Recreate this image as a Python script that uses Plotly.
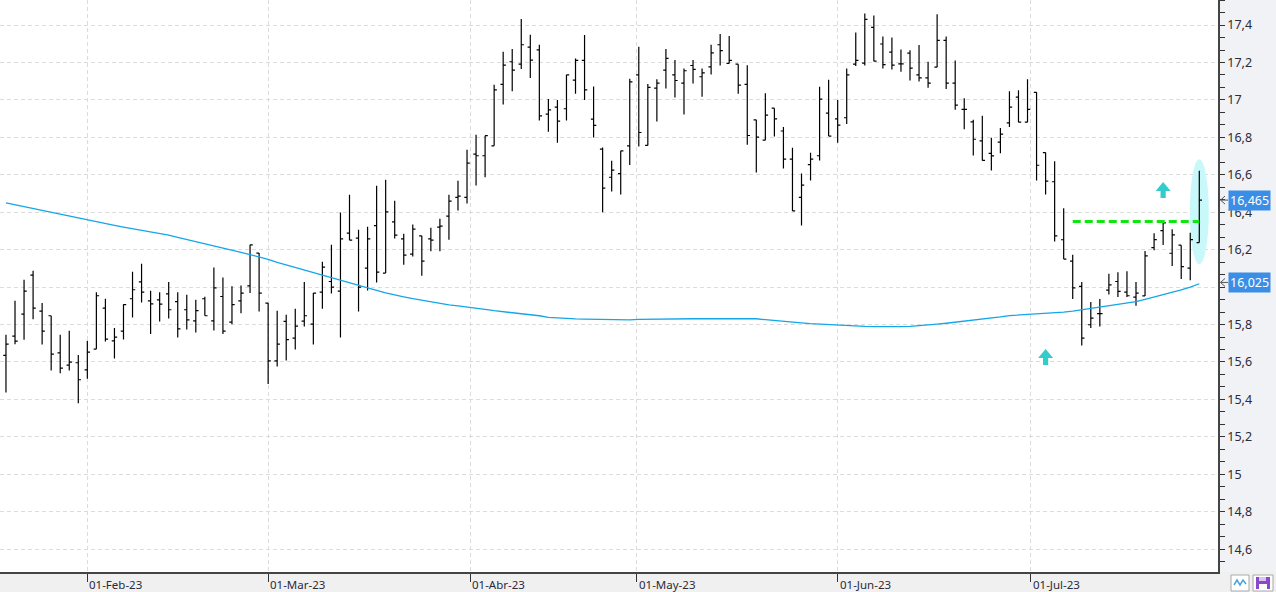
import numpy as np
import pandas as pd
import plotly.graph_objects as go

# ---------------- data ----------------
holidays = ["2023-04-07", "2023-04-10", "2023-05-01"]
dates = pd.bdate_range("2023-01-19", "2023-07-27", freq="C", holidays=holidays)

opens = [15.635, 15.738, 15.856, 16.064, 15.872, 15.847, 15.649, 15.583, 15.596, 15.558,
         15.669, 15.888, 15.713, 15.765, 15.938, 16.028, 15.927, 15.932, 15.964, 15.922,
         15.879, 15.820, 15.938, 15.820, 15.950, 15.813, 15.927, 16.007, 16.182, 15.915,
         15.606, 15.817, 15.728, 15.818, 15.802, 15.973, 16.030, 15.979, 16.289, 16.262,
         16.102, 16.329, 16.075, 16.349, 16.258, 16.176, 16.274, 16.258, 16.321, 16.379,
         16.480, 16.480, 16.711, 16.702, 16.755, 17.083, 17.204, 17.191, 17.282, 17.268,
         16.924, 16.962, 16.953, 17.106, 17.211, 16.898, 16.737, 16.587, 16.606, 16.755,
         17.134, 16.757, 17.063, 17.159, 17.134, 17.090, 17.184, 17.124, 17.177, 17.295,
         17.195, 17.191, 17.083, 16.894, 16.785, 16.956, 16.834, 16.684, 16.479, 16.654,
         16.702, 16.930, 16.899, 16.905, 17.191, 17.197, 17.388, 17.299, 17.256, 17.193,
         17.250, 17.134, 17.118, 17.175, 17.318, 17.090, 16.950, 16.883, 16.781, 16.715,
         16.775, 16.878, 17.015, 16.881, 17.041, 16.719, 16.563, 16.253, 16.139, 16.004,
         15.799, 15.858, 15.984, 16.030, 15.973, 15.947, 15.953, 16.211, 16.302, 16.181,
         16.224, 16.101, 16.238]
highs = [15.745, 15.927, 16.039, 16.087, 15.915, 15.847, 15.745, 15.767, 15.638, 15.713,
         15.973, 15.938, 15.781, 15.909, 16.082, 16.125, 15.980, 15.973, 16.028, 15.973,
         15.959, 15.932, 15.948, 16.105, 16.052, 16.004, 16.009, 16.226, 16.182, 15.915,
         15.874, 15.852, 15.884, 16.028, 15.968, 16.135, 16.226, 16.399, 16.493, 16.306,
         16.322, 16.541, 16.573, 16.461, 16.285, 16.335, 16.274, 16.317, 16.365, 16.493,
         16.568, 16.734, 16.814, 16.809, 17.081, 17.257, 17.272, 17.432, 17.349, 17.295,
         17.005, 17.000, 17.134, 17.222, 17.347, 17.072, 16.746, 16.675, 16.728, 17.113,
         17.284, 17.085, 17.111, 17.272, 17.213, 17.168, 17.213, 17.168, 17.295, 17.352,
         17.341, 17.191, 17.186, 16.894, 17.036, 16.956, 16.856, 16.744, 16.607, 16.718,
         17.070, 17.108, 17.000, 17.168, 17.361, 17.462, 17.451, 17.339, 17.334, 17.270,
         17.265, 17.293, 17.204, 17.458, 17.339, 17.211, 17.009, 16.894, 16.915, 16.798,
         16.850, 17.047, 17.052, 17.111, 17.041, 16.719, 16.673, 16.422, 16.173, 16.027,
         15.920, 15.936, 16.071, 16.080, 16.085, 16.027, 16.193, 16.288, 16.343, 16.309,
         16.224, 16.291, 16.622]
lows = [15.437, 15.695, 15.719, 15.829, 15.694, 15.555, 15.540, 15.555, 15.380, 15.510,
        15.669, 15.710, 15.619, 15.720, 15.838, 15.918, 15.749, 15.817, 15.833, 15.731,
        15.774, 15.758, 15.847, 15.768, 15.749, 15.802, 15.861, 15.968, 15.870, 15.482,
        15.576, 15.608, 15.667, 15.790, 15.694, 15.884, 15.966, 15.731, 16.251, 15.870,
        15.982, 16.025, 16.075, 16.260, 16.119, 16.164, 16.061, 16.191, 16.191, 16.253,
        16.410, 16.447, 16.543, 16.587, 16.755, 16.976, 17.047, 17.165, 17.117, 16.890,
        16.830, 16.771, 16.890, 17.033, 17.000, 16.799, 16.400, 16.511, 16.495, 16.653,
        16.751, 16.757, 16.885, 17.061, 17.013, 16.922, 17.088, 17.017, 17.136, 17.184,
        17.195, 17.033, 16.760, 16.612, 16.785, 16.805, 16.634, 16.407, 16.329, 16.570,
        16.677, 16.807, 16.771, 16.872, 17.182, 17.184, 17.207, 17.168, 17.163, 17.150,
        17.104, 17.099, 17.065, 17.175, 17.058, 16.947, 16.843, 16.703, 16.677, 16.623,
        16.715, 16.856, 16.881, 16.881, 16.570, 16.495, 16.244, 16.150, 15.936, 15.688,
        15.781, 15.790, 15.961, 15.947, 15.947, 15.900, 15.953, 16.197, 16.225, 16.113,
        16.044, 16.037, 16.238]
closes = [15.695, 15.711, 15.979, 15.888, 15.765, 15.642, 15.567, 15.599, 15.505, 15.653,
          15.954, 15.722, 15.733, 15.907, 15.986, 15.973, 15.911, 15.909, 15.879, 15.777,
          15.825, 15.874, 15.847, 15.996, 15.765, 15.906, 15.968, 16.226, 15.968, 15.606,
          15.695, 15.719, 15.792, 15.847, 15.968, 16.107, 16.000, 16.258, 16.251, 16.000,
          16.258, 16.080, 16.402, 16.278, 16.171, 16.310, 16.139, 16.251, 16.326, 16.459,
          16.486, 16.662, 16.702, 16.809, 17.054, 17.186, 17.159, 17.295, 17.213, 16.915,
          16.947, 16.887, 17.134, 17.211, 17.054, 16.864, 16.529, 16.625, 16.728, 17.097,
          16.826, 17.067, 17.090, 17.222, 17.104, 17.156, 17.163, 17.145, 17.252, 17.263,
          17.211, 17.079, 16.810, 16.801, 16.919, 16.899, 16.684, 16.407, 16.545, 16.684,
          17.004, 16.807, 16.865, 17.134, 17.211, 17.430, 17.207, 17.189, 17.186, 17.193,
          17.170, 17.118, 17.090, 17.318, 17.090, 16.972, 16.950, 16.790, 16.677, 16.701,
          16.817, 16.962, 16.881, 16.950, 16.651, 16.566, 16.274, 16.150, 15.996, 15.728,
          15.834, 15.858, 16.012, 15.977, 15.954, 15.968, 16.167, 16.254, 16.343, 16.279,
          16.110, 16.254, 16.465]
moving_avg = [16.450, 16.440, 16.429, 16.419, 16.408, 16.398, 16.388, 16.377, 16.367, 16.356,
              16.347, 16.339, 16.330, 16.321, 16.313, 16.304, 16.295, 16.287, 16.278, 16.266,
              16.255, 16.243, 16.232, 16.220, 16.209, 16.197, 16.186, 16.174, 16.163, 16.148,
              16.132, 16.118, 16.104, 16.091, 16.077, 16.064, 16.050, 16.035, 16.021, 16.007,
              15.994, 15.982, 15.969, 15.957, 15.948, 15.938, 15.929, 15.920, 15.911, 15.905,
              15.900, 15.895, 15.888, 15.881, 15.874, 15.869, 15.863, 15.858, 15.853, 15.847,
              15.838, 15.834, 15.832, 15.830, 15.829, 15.828, 15.826, 15.825, 15.824, 15.825,
              15.828, 15.829, 15.830, 15.831, 15.831, 15.831, 15.831, 15.831, 15.831, 15.831,
              15.831, 15.831, 15.831, 15.831, 15.826, 15.821, 15.818, 15.814, 15.809, 15.805,
              15.802, 15.799, 15.796, 15.793, 15.792, 15.790, 15.789, 15.788, 15.788, 15.789,
              15.790, 15.793, 15.797, 15.802, 15.807, 15.812, 15.817, 15.822, 15.828, 15.834,
              15.841, 15.848, 15.851, 15.853, 15.856, 15.859, 15.862, 15.866, 15.872, 15.879,
              15.886, 15.893, 15.900, 15.907, 15.914, 15.922, 15.934, 15.946, 15.958, 15.971,
              15.985, 16.000, 16.018]

month_starts = ["2023-02-01", "2023-03-01", "2023-04-01", "2023-05-01", "2023-06-01", "2023-07-01"]
month_labels = ["01-Feb-23", "01-Mar-23", "01-Abr-23", "01-May-23", "01-Jun-23", "01-Jul-23"]

last_price = 16.465
last_avg = 16.025
level_start_idx, level_end_idx, level_price = 118, 132, 16.35
signal_idx = [115, 128]
signal_price = [15.627, 16.519]
highlight_idx = 132
highlight_low, highlight_high = 16.122, 16.683

# ---------------- geometry ----------------
W, H = 1276, 592
ML, MR, MT, MB = 0, 58, 0, 20
PW, PH = W - ML - MR, H - MT - MB

n = len(opens)
x_idx = np.arange(n)
if len(dates) == n:
    date_ts = dates.values.astype("datetime64[s]").astype(np.int64)
    tick_pos = list(np.interp(pd.to_datetime(month_starts).values.astype("datetime64[s]").astype(np.int64),
                              date_ts, x_idx))
else:
    tick_pos = [9, 29, 51.33, 69.75, 92, 113.33]

def pxx(p):  # pixel x -> paper
    return (p - ML) / PW

def pxy(p):  # pixel y -> paper
    return (MT + PH - p) / PH

fig = go.Figure()

fig.add_trace(go.Scatter(
    x=x_idx, y=moving_avg, mode="lines",
    line=dict(color="#14a6e8", width=1.3), hoverinfo="skip", showlegend=False))

fig.add_trace(go.Ohlc(
    x=x_idx, open=opens, high=highs, low=lows, close=closes,
    increasing=dict(line=dict(color="#000000", width=1.2)),
    decreasing=dict(line=dict(color="#000000", width=1.2)),
    tickwidth=0.3, showlegend=False))

fig.add_trace(go.Scatter(
    x=[level_start_idx, level_end_idx], y=[level_price, level_price], mode="lines",
    line=dict(color="#11e611", width=3, dash="8px,4px"), hoverinfo="skip", showlegend=False))

shapes = []
# highlight ellipse
shapes.append(dict(type="circle", xref="x", yref="y", layer="between",
                   x0=highlight_idx - 1.05, x1=highlight_idx + 1.05,
                   y0=highlight_low, y1=highlight_high,
                   fillcolor="#c8f8fa", line=dict(width=0)))
# signal arrows
arrow_path = "M0,8 L7.5,-1 L2.6,-1 L2.6,-8 L-2.6,-8 L-2.6,-1 L-7.5,-1 Z"
for xi, yp in zip(signal_idx, signal_price):
    shapes.append(dict(type="path", xref="x", yref="y", xsizemode="pixel", ysizemode="pixel",
                       xanchor=xi, yanchor=yp, path=arrow_path,
                       fillcolor="#33cccc", line=dict(width=0), layer="above"))
# right-side axis background strip
shapes.append(dict(type="rect", xref="paper", yref="paper", x0=1, x1=pxx(W), y0=0, y1=1,
                   fillcolor="#f1f2f5", line=dict(width=0), layer="below"))
# small arrows pointing to the axis for the price labels
for v in [last_price, last_avg]:
    shapes.append(dict(type="path", xref="paper", yref="y", xsizemode="pixel", ysizemode="pixel",
                       xanchor=1, yanchor=v, path="M7,4 L2.5,0 L7,-4 M2.5,0 L10,0",
                       line=dict(color="#555555", width=1), layer="above"))
# bottom-right icons
shapes.append(dict(type="rect", xref="paper", yref="paper", x0=pxx(1231), x1=pxx(1249),
                   y0=pxy(591), y1=pxy(575), fillcolor="#ffffff", line=dict(color="#a8a8a8", width=1)))
shapes.append(dict(type="path", xref="paper", yref="paper",
                   path="M {:.5f},{:.5f} L {:.5f},{:.5f} L {:.5f},{:.5f} L {:.5f},{:.5f} L {:.5f},{:.5f}".format(
                       pxx(1234), pxy(585), pxx(1237), pxy(580), pxx(1240), pxy(585),
                       pxx(1243), pxy(580), pxx(1246), pxy(584)),
                   line=dict(color="#4aa3e0", width=1.5)))
shapes.append(dict(type="rect", xref="paper", yref="paper", x0=pxx(1253), x1=pxx(1273),
                   y0=pxy(591), y1=pxy(575), fillcolor="#ffffff", line=dict(color="#a8a8a8", width=1)))
shapes.append(dict(type="rect", xref="paper", yref="paper", x0=pxx(1256), x1=pxx(1270),
                   y0=pxy(589), y1=pxy(577), fillcolor="#8b48c8", line=dict(width=0)))
shapes.append(dict(type="rect", xref="paper", yref="paper", x0=pxx(1259), x1=pxx(1267),
                   y0=pxy(589), y1=pxy(584), fillcolor="#ffffff", line=dict(width=0)))
shapes.append(dict(type="rect", xref="paper", yref="paper", x0=pxx(1259), x1=pxx(1266),
                   y0=pxy(581), y1=pxy(577), fillcolor="#d9c4ef", line=dict(width=0)))

annotations = []
for tp, lab in zip(tick_pos, month_labels):
    annotations.append(dict(x=tp, xref="x", y=0, yref="paper", text=lab, showarrow=False,
                            xanchor="left", yanchor="top", xshift=0, yshift=-3,
                            font=dict(family="Noto Sans, Open Sans, sans-serif", size=11.5, color="#2b2b3a")))
for v, txt in [(last_price, "16,465"), (last_avg, "16,025")]:
    annotations.append(dict(x=1, xref="paper", y=v, yref="y", text=txt, showarrow=False,
                            xanchor="left", yanchor="middle", xshift=10,
                            bgcolor="#3b8ee6", borderpad=1,
                            font=dict(family="Noto Sans, Open Sans, sans-serif", size=12.5, color="#ffffff")))

fig.update_layout(
    width=W, height=H, margin=dict(l=ML, r=MR, t=MT, b=MB, pad=0),
    paper_bgcolor="#f0f0f0", plot_bgcolor="#ffffff",
    separators=",.", showlegend=False, hovermode=False,
    shapes=shapes, annotations=annotations,
    xaxis=dict(range=[-0.66, 134.07], tickvals=tick_pos, showticklabels=False,
               ticks="outside", ticklen=8, tickcolor="#333333", tickwidth=1,
               showgrid=True, gridcolor="#dcdcdc", griddash="4px,3px", gridwidth=1,
               showline=True, linecolor="#444444", linewidth=1.5, zeroline=False,
               rangeslider=dict(visible=False), fixedrange=True),
    yaxis=dict(range=[14.478, 17.534], side="right", dtick=0.2, tick0=0,
               ticks="outside", ticklen=5, tickcolor="#333333",
               minor=dict(dtick=0.2 / 3, tick0=0, ticks="outside", ticklen=5, tickcolor="#333333", showgrid=False),
               showgrid=True, gridcolor="#dcdcdc", griddash="4px,3px", gridwidth=1,
               showline=True, linecolor="#444444", linewidth=1.5, zeroline=False,
               tickfont=dict(family="Noto Sans, Open Sans, sans-serif", size=12.5, color="#2b2b3a"),
               fixedrange=True),
)

fig.write_html("out.html")
